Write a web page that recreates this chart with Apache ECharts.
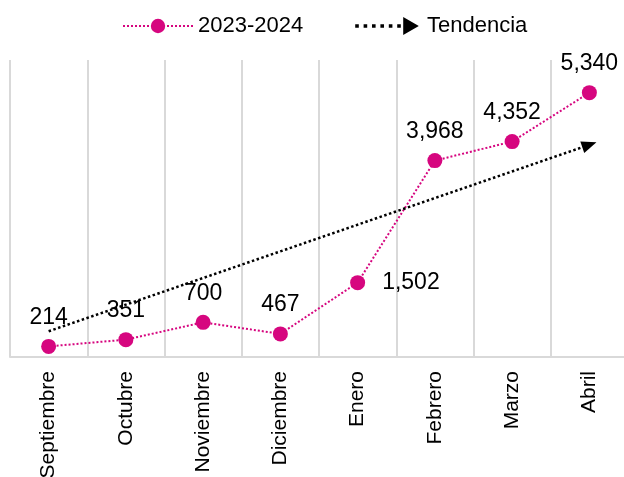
<!DOCTYPE html>
<html>
<head>
<meta charset="utf-8">
<script src="https://cdn.jsdelivr.net/npm/echarts@6/dist/echarts.min.js"></script>
</head>
<body style="margin:0;background:#fff">
<div id="main" style="width:624px;height:477px"></div>
<script>
var meses = ['Septiembre', 'Octubre', 'Noviembre', 'Diciembre', 'Enero', 'Febrero', 'Marzo', 'Abril'];
var valores = [214, 351, 700, 467, 1502, 3968, 4352, 5340];
// tendencia: valor inicial y final
var tendencia = [520, 4287];

var rosa = '#d6067f';
var chart = echarts.init(document.getElementById('main'));

var labelPos = ['top', 'top', 'top', 'top', 'right', 'top', 'top', 'top'];
var serieData = valores.map(function (v, i) {
    return {
        value: v,
        label: {position: labelPos[i], distance: labelPos[i] == 'right' ? 17 : 10}
    };
});

var option = {
    animation: false,
    textStyle: {fontFamily: 'Liberation Sans, Arial, sans-serif'},
    legend: {
        top: 10,
        left: 117,
        itemGap: 52,
        itemWidth: 70,
        itemHeight: 18,
        textStyle: {fontSize: 22, color: '#000'},
        data: [
            {name: '2023-2024'},
            {
                name: 'Tendencia',
                icon: 'path://M0,6h3v3h-3zM7,6h3v3h-3zM14,6h3v3h-3zM21,6h3v3h-3zM28,6h3v3h-3zM35,6h3v3h-3zM40,0L53,7.5L40,15z',
                itemStyle: {color: '#000'}
            }
        ]
    },
    grid: {left: 10, right: -4, top: 60, bottom: 120, outerBoundsMode: 'none', containLabel: false},
    xAxis: {
        type: 'category',
        data: meses,
        axisLine: {lineStyle: {color: '#d9d9d9', width: 2}},
        axisTick: {show: false},
        splitLine: {show: true, lineStyle: {color: '#d9d9d9', width: 2}},
        axisLabel: {rotate: 90, fontSize: 21, color: '#000', margin: 14, interval: 0}
    },
    yAxis: {
        type: 'value',
        min: 0,
        max: 6000,
        show: false,
        splitLine: {show: false}
    },
    series: [
        {
            name: '2023-2024',
            type: 'line',
            data: serieData,
            symbol: 'circle',
            symbolSize: 15,
            itemStyle: {color: rosa},
            lineStyle: {color: rosa, width: 2, type: 'dotted'},
            label: {
                show: true,
                fontSize: 23,
                color: '#000',
                formatter: function (p) { return p.value.toLocaleString('en-US'); }
            },
            z: 3
        },
        {
            name: 'Tendencia',
            type: 'line',
            data: [],
            itemStyle: {color: '#000'},
            lineStyle: {color: '#000', type: 'dotted', width: 2},
            markLine: {
                silent: true,
                symbol: ['none', 'triangle'],
                symbolSize: [12, 15],
                label: {show: false},
                lineStyle: {color: '#000', type: 'dotted', width: 2.5},
                data: [[
                    {coord: [meses[0], tendencia[0]]},
                    {coord: [meses[meses.length - 1], tendencia[1]]}
                ]]
            },
            z: 2
        }
    ]
};
chart.setOption(option);
</script>
</body>
</html>
